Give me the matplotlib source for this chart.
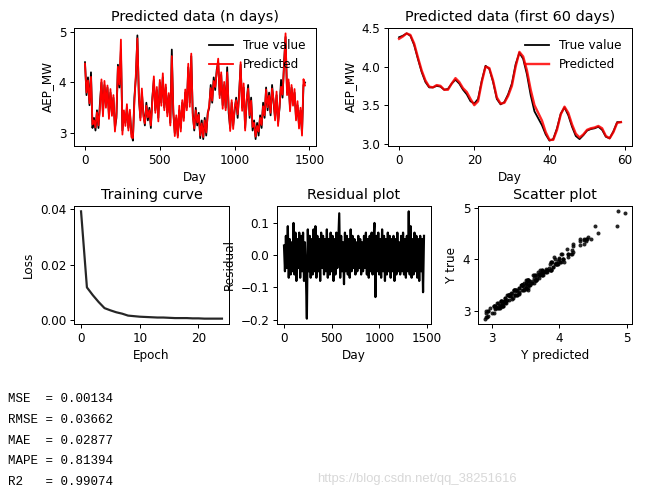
import numpy as np
import matplotlib.pyplot as plt

# long series, one value every 10 days
day_step = 10
true_all = [4.40, 3.75, 4.10, 3.55, 4.20, 3.10, 3.30, 3.05, 3.45, 3.10,
            3.60, 4.00, 3.40, 3.95, 3.55, 3.90, 3.35, 3.80, 3.40, 3.70,
            3.10, 3.30, 4.35, 3.90, 4.65, 3.05, 3.40, 3.20, 3.50, 3.10,
            3.40, 3.00, 2.85, 3.70, 4.10, 4.93, 3.70, 3.30, 3.80, 3.40,
            3.15, 3.60, 3.25, 3.50, 3.10, 3.70, 4.05, 3.45, 3.85, 3.30,
            4.00, 3.60, 4.10, 3.50, 3.90, 3.40, 3.75, 3.20, 4.65, 3.40,
            3.00, 3.30, 2.95, 3.45, 3.10, 3.60, 3.30, 3.80, 3.50, 4.30,
            3.60, 4.52, 3.40, 3.05, 3.50, 3.15, 3.40, 2.90, 3.25, 2.88,
            3.30, 2.95, 3.40, 3.50, 3.95, 3.60, 4.10, 3.85, 4.25, 4.40,
            3.75, 4.15, 3.55, 3.95, 3.50, 4.30, 3.40, 3.10, 3.60, 3.15,
            3.45, 3.70, 3.30, 3.80, 4.35, 3.50, 3.90, 3.10, 3.60, 3.95,
            3.30, 3.70, 3.05, 3.25, 2.88, 3.20, 2.95, 3.35, 3.10, 3.60,
            3.30, 3.90, 3.45, 3.80, 3.35, 3.95, 3.60, 3.30, 3.75, 3.20,
            3.50, 4.05, 3.70, 4.40, 4.90, 3.80, 4.00, 3.50, 3.90, 3.60,
            3.80, 3.30, 3.55, 3.15, 3.45, 3.00, 3.95, 4.00]

residual = [0.03, -0.05, 0.06, -0.04, 0.09, -0.07, 0.05, -0.06, 0.04, -0.05,
            0.10, -0.06, 0.07, -0.08, 0.05, -0.04, 0.07, -0.07, 0.06, -0.05,
            0.07, -0.08, 0.04, -0.06, -0.197, 0.08, -0.05, 0.06, -0.07, 0.05,
            -0.06, 0.08, -0.05, 0.09, -0.07, 0.06, -0.05, 0.05, -0.08, 0.07,
            -0.04, 0.06, -0.06, 0.05, -0.05, 0.08, -0.07, 0.05, -0.06, 0.07,
            -0.05, 0.06, -0.08, 0.05, -0.06, 0.07, -0.04, 0.05, 0.13, -0.07,
            0.06, -0.05, 0.04, -0.09, 0.07, -0.05, 0.06, -0.06, 0.05, -0.07,
            0.08, -0.05, 0.06, -0.04, 0.05, -0.06, 0.04, -0.05, 0.06, -0.04,
            0.05, -0.06, 0.04, -0.05, 0.06, -0.04, 0.07, -0.06, 0.05, -0.07,
            0.06, -0.05, 0.07, -0.06, 0.05, 0.10, -0.13, 0.06, -0.05, 0.07,
            -0.06, 0.05, -0.07, 0.08, -0.05, 0.06, -0.08, 0.05, -0.06, 0.07,
            -0.05, 0.06, -0.07, 0.05, -0.05, 0.06, -0.08, 0.05, -0.06, 0.07,
            -0.05, 0.04, -0.06, 0.06, -0.05, 0.07, -0.06, 0.05, -0.07, 0.06,
            -0.05, 0.136, -0.06, 0.09, -0.07, 0.05, -0.06, 0.07, -0.05, 0.06,
            -0.07, 0.05, -0.08, 0.06, -0.05, 0.05, -0.115, 0.06]

# first 60 days
pred_60 = [4.36, 4.39, 4.43, 4.41, 4.30, 4.12, 3.95, 3.82, 3.74, 3.73,
           3.76, 3.75, 3.70, 3.70, 3.78, 3.85, 3.80, 3.72, 3.67, 3.58,
           3.50, 3.55, 3.80, 4.00, 3.98, 3.82, 3.60, 3.52, 3.53, 3.62,
           3.75, 4.00, 4.19, 4.13, 3.95, 3.70, 3.50, 3.40, 3.30, 3.15,
           3.05, 3.05, 3.18, 3.38, 3.48, 3.40, 3.25, 3.13, 3.08, 3.12,
           3.18, 3.20, 3.21, 3.23, 3.20, 3.10, 3.07, 3.15, 3.27, 3.28]
true_60 = [4.38, 4.40, 4.43, 4.40, 4.28, 4.10, 3.93, 3.80, 3.73, 3.73,
           3.75, 3.74, 3.70, 3.71, 3.78, 3.83, 3.78, 3.70, 3.64, 3.55,
           3.52, 3.58, 3.82, 4.01, 3.97, 3.80, 3.58, 3.51, 3.54, 3.64,
           3.78, 4.03, 4.18, 4.10, 3.90, 3.63, 3.42, 3.33, 3.24, 3.12,
           3.04, 3.06, 3.20, 3.39, 3.47, 3.37, 3.22, 3.10, 3.06, 3.11,
           3.17, 3.19, 3.20, 3.22, 3.18, 3.09, 3.07, 3.16, 3.28, 3.28]

loss = [0.0393, 0.0118, 0.0090, 0.0065, 0.0043, 0.0035, 0.0028, 0.0023,
        0.0016, 0.0014, 0.0012, 0.0011, 0.0010, 0.0009, 0.0009, 0.0008,
        0.0007, 0.0007, 0.0007, 0.0006, 0.0006, 0.0005, 0.0005, 0.0005, 0.0005]

metric_names = ["MSE ", "RMSE", "MAE ", "MAPE", "R2  "]
metric_values = [0.00134, 0.03662, 0.02877, 0.81394, 0.99074]

true_all = np.array(true_all)
residual = np.array(residual)
pred_all = true_all - residual
days = np.arange(len(true_all)) * day_step

plt.rcParams.update({
    'font.size': 12,
    'axes.titlesize': 14.4,
    'lines.linewidth': 1.8,
    'axes.linewidth': 1.0,
    'xtick.major.size': 4.2,
    'ytick.major.size': 4.2,
    'xtick.major.width': 1.0,
    'ytick.major.width': 1.0,
    'axes.labelpad': 4.8,
    'axes.titlepad': 7.2,
})

W, H = 653, 498
fig = plt.figure(figsize=(W / 72, H / 72), dpi=72)

def box(l, t, r, b):
    return [l / W, 1 - b / H, (r - l) / W, (b - t) / H]

ax1 = fig.add_axes(box(74, 28, 316, 146))
ax1.plot(days, true_all, color='k', label='True value')
ax1.plot(days, pred_all, color='r', label='Predicted')
ax1.set_title('Predicted data (n days)')
ax1.set_xlabel('Day')
ax1.set_ylabel('AEP_MW')
ax1.set_xticks([0, 500, 1000, 1500])
ax1.set_yticks([3, 4, 5])
ax1.legend(loc='upper right', frameon=False)

ax2 = fig.add_axes(box(388, 28, 632, 146))
ax2.plot(np.arange(len(true_60)), true_60, color='k', label='True value')
ax2.plot(np.arange(len(pred_60)), pred_60, color='r', lw=2.4, alpha=0.85, label='Predicted')
ax2.set_title('Predicted data (first 60 days)')
ax2.set_xlabel('Day')
ax2.set_ylabel('AEP_MW')
ax2.set_xticks([0, 20, 40, 60])
ax2.set_yticks([3.0, 3.5, 4.0, 4.5])
ax2.legend(loc='upper right', frameon=False)

ax3 = fig.add_axes(box(74, 206, 229, 324))
ax3.plot(np.arange(len(loss)), loss, color='k', lw=2.2, alpha=0.85)
ax3.set_title('Training curve')
ax3.set_xlabel('Epoch')
ax3.set_ylabel('Loss')
ax3.set_xticks([0, 10, 20])
ax3.set_yticks([0.0, 0.02, 0.04])

ax4 = fig.add_axes(box(277, 206, 431, 324))
ax4.plot(days, residual, color='k', lw=2.2)
ax4.set_title('Residual plot')
ax4.set_xlabel('Day')
ax4.set_ylabel('Residual')
ax4.set_xticks([0, 500, 1000, 1500])
ax4.set_yticks([0.1, 0.0, -0.1, -0.2])

ax5 = fig.add_axes(box(478, 206, 632, 324))
ax5.scatter(np.concatenate([pred_all, pred_60]), np.concatenate([true_all, true_60]),
            s=16, color='k', alpha=0.85, linewidths=0)
ax5.set_title('Scatter plot')
ax5.set_xlabel('Y predicted')
ax5.set_ylabel('Y true')
ax5.set_xticks([3, 4, 5])
ax5.set_yticks([3, 4, 5])

for i, (name, val) in enumerate(zip(metric_names, metric_values)):
    fig.text(8 / W, 1 - (399 + i * 20.8) / H, f"{name} = {val:.5f}",
             family='Liberation Mono', fontsize=12.5, va='center', ha='left')

fig.text(417 / W, 1 - 479 / H, "https://blog.csdn.net/qq_38251616",
         family='Liberation Sans', fontsize=13, color='#d8d8d8', ha='center', va='center')

fig.savefig('out.png', dpi=72)
